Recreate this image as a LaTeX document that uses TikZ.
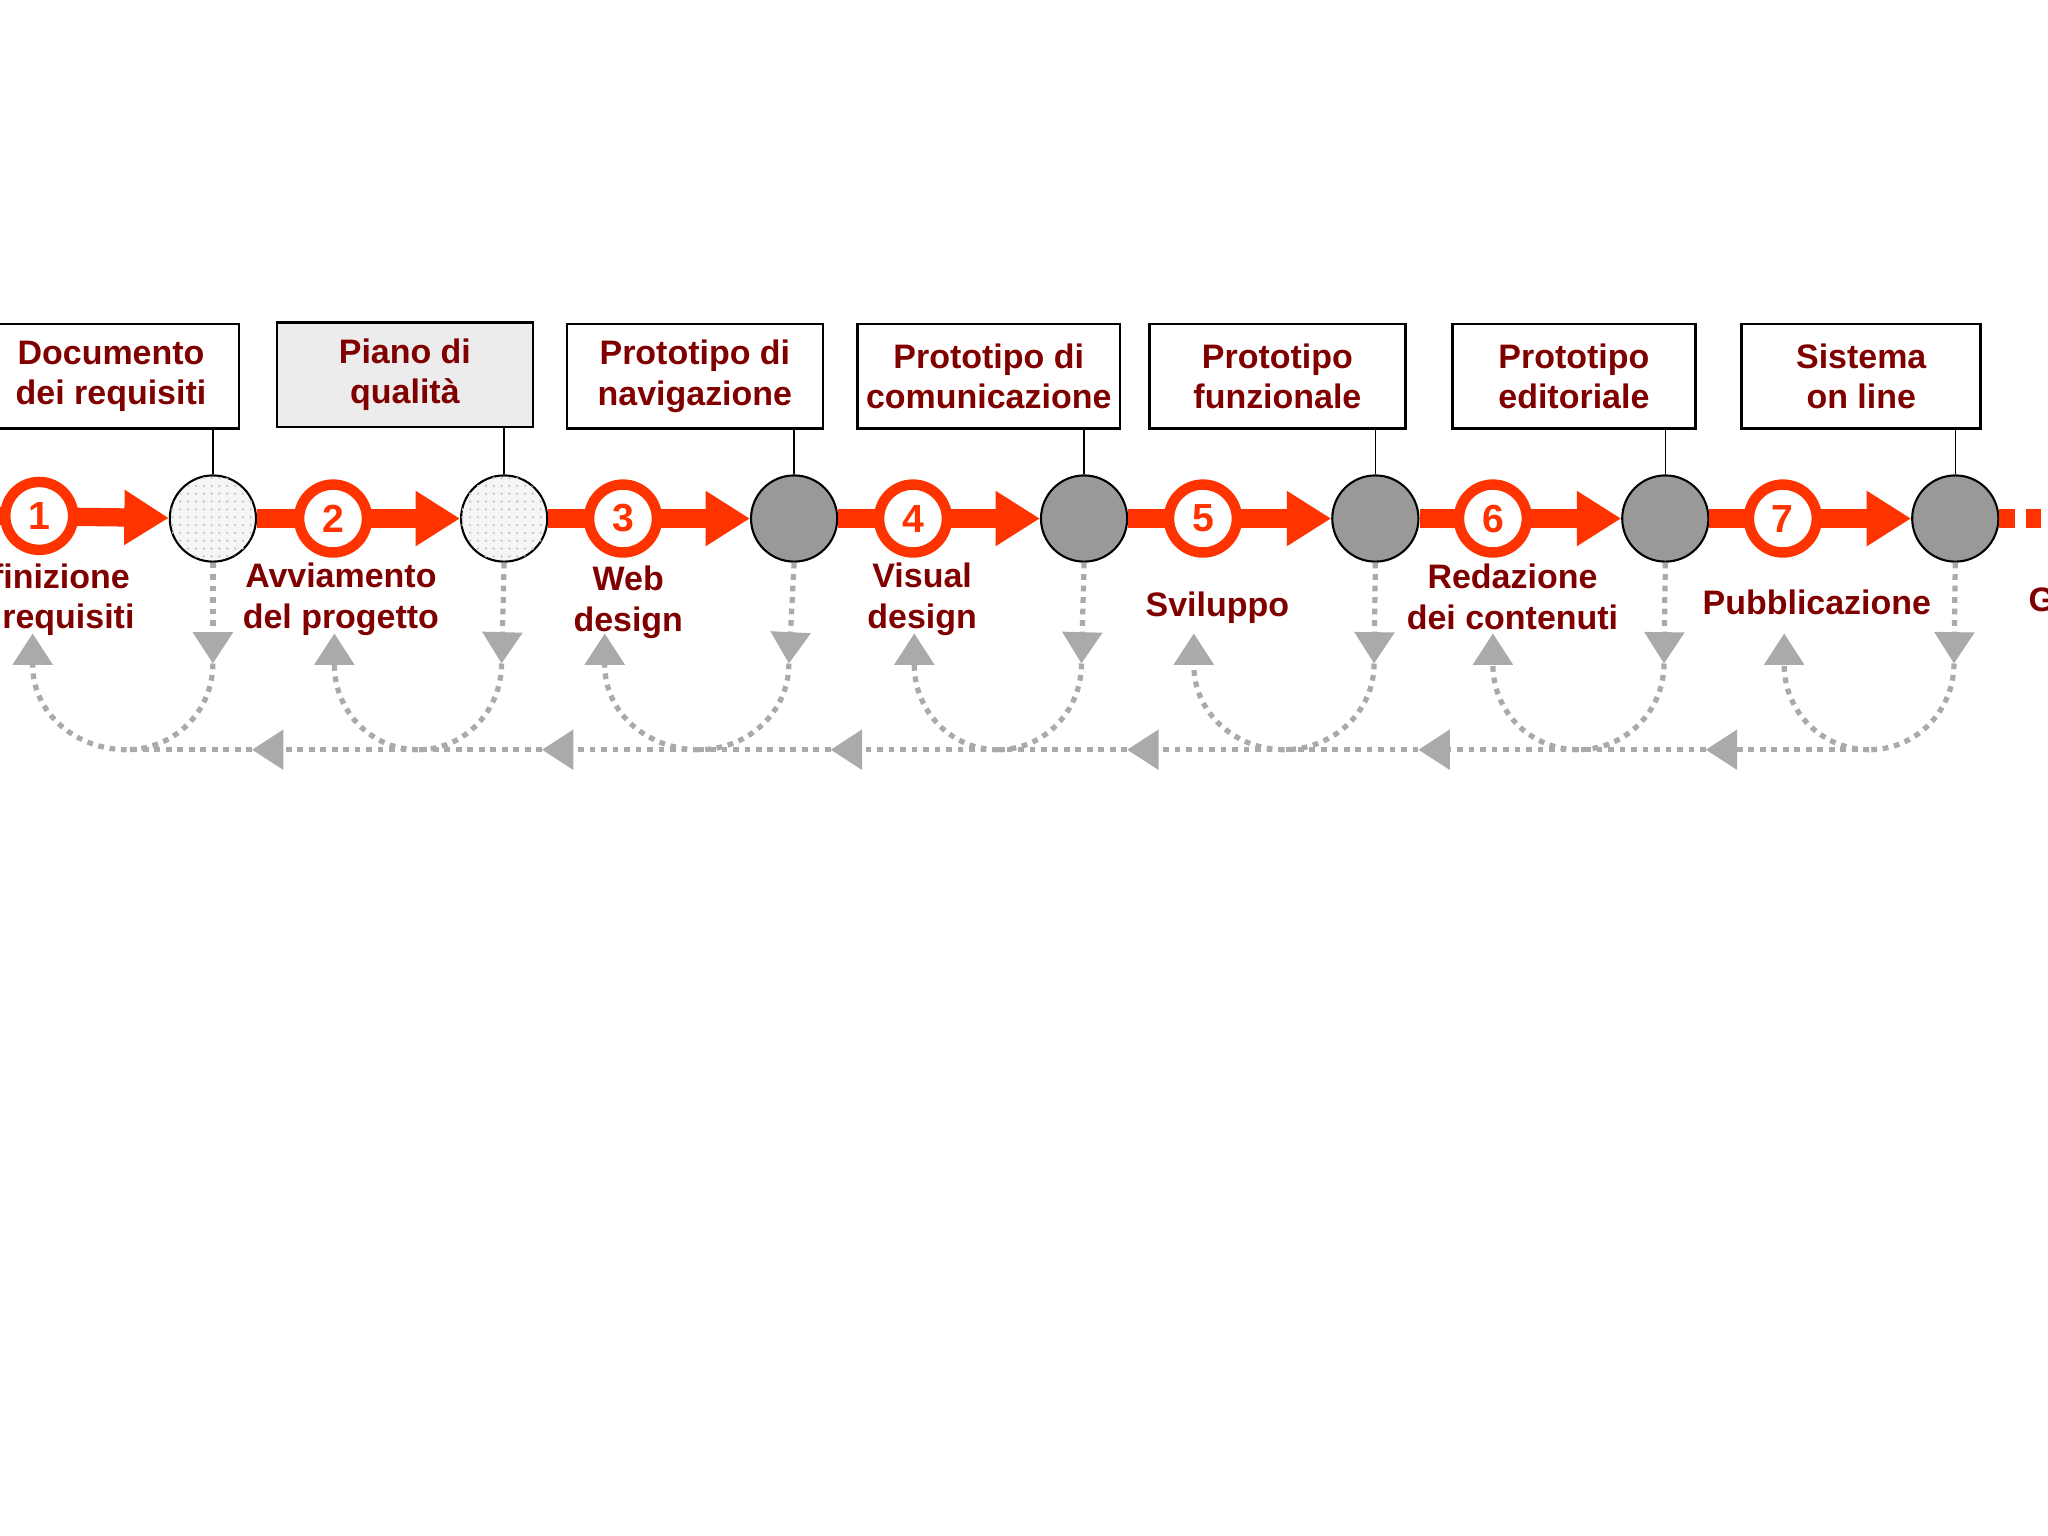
\documentclass[tikz,border=0pt]{standalone}
\usepackage{fontspec}
\setmainfont{Liberation Sans}
\usetikzlibrary{arrows.meta,patterns}
\definecolor{rosso}{HTML}{FF3300}
\definecolor{bordeaux}{HTML}{800000}
\definecolor{grigio}{HTML}{AAAAAA}
\begin{document}
\begin{tikzpicture}[x=0.5pt,y=-0.5pt]
\tikzset{
  fase/.style={circle, draw=rosso, line width=4pt, fill=white, minimum size=26pt, inner sep=0pt,
    text=rosso, font=\fontsize{15}{15}\selectfont\bfseries},
  tappa/.style={circle, draw=black, line width=0.8pt, fill=grigio!90!black, minimum size=33pt, inner sep=0pt},
  tappavuota/.style={tappa, fill=gray!8, postaction={pattern=dots, pattern color=gray!45}},
  doc/.style={rectangle, draw=black, line width=1pt, fill=white, minimum width=98pt, minimum height=40pt,
    align=center, text=bordeaux, font=\fontsize{13}{15.5}\selectfont\bfseries},
  nome/.style={align=center, text=bordeaux, font=\fontsize{13}{15.5}\selectfont\bfseries},
  freccia/.style={rosso, line width=7pt, -{Triangle[length=17pt,width=20pt]}},
  ritorno/.style={grigio, line width=2pt, dash pattern=on 2.2pt off 2.2pt},
  punta/.style={ritorno, -{Triangle[length=12pt,width=15pt,sep=0pt]}, shorten >=0pt}
}
\useasboundingbox (0,0) rectangle (1568,1176);
\fill[white] (0,0) rectangle (1568,1176);

% documenti
\node[doc] (d1) at (85,288) {Documento\\dei requisiti};
\node[doc, fill=gray!15] (d2) at (310,287) {Piano di\\qualità};
\node[doc] (d3) at (532,288) {Prototipo di\\navigazione};
\node[doc] (d4) at (757,288) {Prototipo di\\comunicazione};
\node[doc] (d5) at (978,288) {Prototipo\\funzionale};
\node[doc, minimum width=93pt] (d6) at (1205,288) {Prototipo\\editoriale};
\node[doc, minimum width=91.5pt] (d7) at (1425,288) {Sistema\\on line};

% tappe
\node[tappavuota] (m1) at (163,397) {};
\node[tappavuota] (m2) at (386,397) {};
\node[tappa] (m3) at (608,397) {};
\node[tappa] (m4) at (830,397) {};
\node[tappa] (m5) at (1053,397) {};
\node[tappa] (m6) at (1275,397) {};
\node[tappa] (m7) at (1497,397) {};
\coordinate (inizio) at (0,395);
\coordinate (fine) at (1568,397);

% frecce tra le fasi
\draw[freccia] (inizio) -- (m1);
\draw[freccia] (m1) -- (m2);
\draw[freccia] (m2) -- (m3);
\draw[freccia] (m3) -- (m4);
\draw[freccia] (m4) -- (m5);
\draw[freccia] (m5) -- (m6);
\draw[freccia] (m6) -- (m7);
\draw[rosso, line width=7pt, dash pattern=on 6pt off 4pt] (m7) -- (fine);

% fasi
\node[fase] (f1) at (30,395) {1};
\node[fase] (f2) at (255,397) {2};
\node[fase] (f3) at (477,397) {3};
\node[fase] (f4) at (699,397) {4};
\node[fase] (f5) at (921,397) {5};
\node[fase] (f6) at (1143,397) {6};
\node[fase] (f7) at (1365,397) {7};

\foreach \i in {1,...,7} \draw[line width=0.6pt] (d\i.south -| m\i) -- (m\i.north);

% nomi delle fasi
\node[nome] (n1) at (30,459) {Definizione\\dei requisiti};
\node[nome] (n2) at (261,459) {Avviamento\\del progetto};
\node[nome] (n3) at (481,461) {Web\\design};
\node[nome] (n4) at (706,459) {Visual\\design};
\node[nome] (n5) at (932,465) {Sviluppo};
\node[nome] (n6) at (1158,457) {Redazione\\dei contenuti};
\node[nome] (n7) at (1391,461) {Pubblicazione};
\node[nome, anchor=west] (n8) at (1546,459) {Gestione};

% cicli di ritorno
\coordinate (u1) at (25,485);   \coordinate (g1) at (163,508); \coordinate (b1) at (97,574);
\coordinate (u2) at (256,485);  \coordinate (g2) at (384,508); \coordinate (b2) at (320,574);
\coordinate (u3) at (463,485);  \coordinate (g3) at (604,508); \coordinate (b3) at (535,574);
\coordinate (u4) at (700,485);  \coordinate (g4) at (828,508); \coordinate (b4) at (764,574);
\coordinate (u5) at (914,485);  \coordinate (g5) at (1052,508); \coordinate (b5) at (983,574);
\coordinate (u6) at (1143,485); \coordinate (g6) at (1274,508); \coordinate (b6) at (1208,574);
\coordinate (u7) at (1366,485); \coordinate (g7) at (1496,508); \coordinate (b7) at (1431,574);
\coordinate (a1) at (193,574);
\coordinate (a2) at (415,574);
\coordinate (a3) at (636,574);
\coordinate (a4) at (863,574);
\coordinate (a5) at (1086,574);
\coordinate (a6) at (1306,574);

\foreach \i in {1,...,7} {
  \draw[punta] (m\i.south) -- (g\i);
  \draw[ritorno] (g\i) to[out=-90, in=0] (b\i);
  \draw[punta] (b\i) to[out=180, in=-90] ([yshift=-12]u\i) -- (u\i);
}
\foreach \i [evaluate=\i as \j using int(\i+1)] in {1,...,6} {
  \draw[punta] (b\j) -- (a\i);
  \draw[ritorno] (a\i) -- (b\i);
}
\end{tikzpicture}
\end{document}
